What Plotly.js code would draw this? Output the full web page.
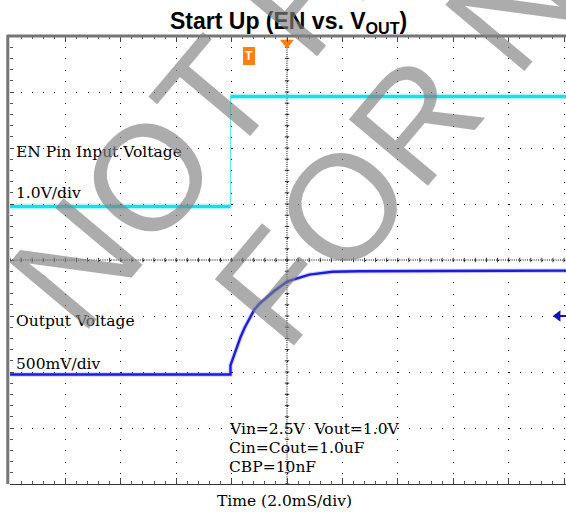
<!DOCTYPE html>
<html><head><meta charset="utf-8">
<script src="https://cdn.plot.ly/plotly-3.0.1.min.js"></script>
<style>html,body{margin:0;padding:0;background:#fff;overflow:hidden}#chart{width:566px;height:516px}</style>
</head><body><div id="chart"></div>
<script>
// Time axis in ms (2.0 ms/div, trigger at 0); vertical values in screen divisions
const enTime = [-10, -2.04, -2.04, 10.07];
const enLevel = [0.955, 0.955, 2.92, 2.92];
const voutTime = [-10, -2.04, -2.04, -1.93, -1.79, -1.68, -1.53, -1.35, -1.17, -0.99, -0.74, -0.45, 0.02, 0.45, 0.81, 1.64, 2.62, 10.07];
const voutLevel = [-2.045, -2.045, -1.88, -1.72, -1.53, -1.38, -1.21, -1.03, -0.88, -0.78, -0.67, -0.55, -0.38, -0.31, -0.26, -0.21, -0.20, -0.19];
const triggerTime = [0];
const triggerLevel = [3.88];
const ch2RefTime = [9.78];
const ch2RefLevel = [-1.0];
const xRange = [-10, 10.072];
const yRange = [-4, 4];

const PX = px => (px - 10) / 556;
const PY = py => (484 - py) / 448;

const enThickX = [enTime[0], enTime[1], null, enTime[2], enTime[3]];
const enThickY = [enLevel[0], enLevel[1], null, enLevel[2], enLevel[3]];

const traces = [
  {x: enTime, y: enLevel, mode: 'lines', line: {color: 'rgba(70,225,235,0.8)', width: 1}, hoverinfo: 'skip'},
  {x: enThickX, y: enThickY, mode: 'lines', connectgaps: false, line: {color: 'rgba(30,230,240,0.35)', width: 6}, hoverinfo: 'skip'},
  {x: enThickX, y: enThickY, mode: 'lines', connectgaps: false, line: {color: '#14e2ea', width: 3}, hoverinfo: 'skip'},
  {x: voutTime, y: voutLevel, mode: 'lines', line: {color: 'rgba(70,70,255,0.25)', width: 4.5}, hoverinfo: 'skip'},
  {x: voutTime, y: voutLevel, mode: 'lines', line: {color: '#1c1cdc', width: 2.4}, hoverinfo: 'skip'},
  {x: triggerTime, y: triggerLevel, mode: 'markers', cliponaxis: false, marker: {symbol: 'triangle-down', size: 12, color: '#ff7f10'}, hoverinfo: 'skip'},
  {x: [ch2RefTime[0], xRange[1]], y: [ch2RefLevel[0], ch2RefLevel[0]], mode: 'lines', cliponaxis: false, line: {color: '#1010b8', width: 2}, hoverinfo: 'skip'},
  {x: ch2RefTime, y: ch2RefLevel, mode: 'markers', cliponaxis: false, marker: {symbol: 'triangle-left', size: 10, color: '#1010b8'}, hoverinfo: 'skip'}
];

const shapes = [];
// center crosshair (dense dotted) with small tick marks
shapes.push({type: 'line', xref: 'x', yref: 'y', x0: 0, x1: 0, y0: yRange[0], y1: yRange[1], line: {color: '#000', width: 1, dash: '1px,1.2px'}, layer: 'below'});
shapes.push({type: 'line', xref: 'x', yref: 'y', x0: xRange[0], x1: xRange[1], y0: 0, y1: 0, line: {color: '#000', width: 1, dash: '1px,1.2px'}, layer: 'below'});
for (let k = 0; k <= 40; k++) {
  const y = yRange[0] + k * 0.2;
  shapes.push({type: 'line', xref: 'x', yref: 'y', x0: -0.08, x1: 0.08, y0: y, y1: y, line: {color: '#333', width: 1}, layer: 'below'});
}
for (let k = 0; k <= 50; k++) {
  const x = xRange[0] + k * 0.4;
  shapes.push({type: 'line', xref: 'x', yref: 'y', x0: x, x1: x, y0: -0.04, y1: 0.04, line: {color: '#333', width: 1}, layer: 'below'});
}
// frame borders
shapes.push({type: 'line', xref: 'paper', yref: 'paper', x0: -0.004, x1: 1, y0: 1, y1: 1, line: {color: '#767676', width: 3}});
shapes.push({type: 'line', xref: 'paper', yref: 'paper', x0: -0.004, x1: -0.004, y0: 0, y1: 1.003, line: {color: '#767676', width: 3}});

const serif = 'DejaVu Serif, serif';
const fs = 15.5;
function label(text, left, baseline, extra) {
  return Object.assign({xref: 'paper', yref: 'paper', x: PX(left), y: PY(baseline - 0.35 * fs), xanchor: 'left', yanchor: 'middle', text: text, showarrow: false, borderpad: 0, borderwidth: 0, font: {family: serif, size: fs, color: '#000'}}, extra || {});
}
const wmFont = {family: 'Liberation Sans, Arial, sans-serif', size: 150, color: 'rgba(128,128,128,0.65)'};
const annotations = [
  {xref: 'paper', yref: 'paper', x: PX(288), y: PY(30.5 - 0.35 * 23), xanchor: 'center', yanchor: 'middle', showarrow: false, text: '<b>Start Up (EN vs. V<sub>OUT</sub>)</b>', font: {family: 'Liberation Sans, Arial, sans-serif', size: 23, color: '#000'}},
  label('EN Pin Input Voltage', 16, 157),
  label('1.0V/div', 16, 198),
  label('Output Voltage', 16, 326),
  label('500mV/div', 16, 369),
  label('Vin=2.5V\u00a0\u00a0Vout=1.0V', 229, 434),
  label('Cin=Cout=1.0uF', 229, 453),
  label('CBP=10nF', 229, 472),
  {xref: 'paper', yref: 'paper', x: PX(284), y: PY(506 - 0.35 * fs), xanchor: 'center', yanchor: 'middle', showarrow: false, text: 'Time (2.0mS/div)', font: {family: serif, size: fs, color: '#000'}},
  {xref: 'paper', yref: 'paper', x: PX(249), y: PY(56), xanchor: 'center', yanchor: 'middle', showarrow: false, text: '<b>T</b>', bgcolor: '#ff7f10', borderpad: 2, borderwidth: 0, font: {family: 'Liberation Sans, Arial, sans-serif', size: 12, color: '#fff'}},
  {xref: 'paper', yref: 'paper', x: PX(190), y: PY(127), xanchor: 'center', yanchor: 'middle', showarrow: false, text: 'NOT R', textangle: -50, font: wmFont},
  {xref: 'paper', yref: 'paper', x: PX(396), y: PY(143), xanchor: 'center', yanchor: 'middle', showarrow: false, text: 'FOR N', textangle: -50, font: wmFont}
];

const layout = {
  width: 566, height: 516,
  margin: {l: 10, r: 0, t: 36, b: 32, pad: 0},
  paper_bgcolor: '#fff', plot_bgcolor: '#fff',
  showlegend: false,
  xaxis: {
    range: xRange, tick0: 0, dtick: 2, showticklabels: false, zeroline: false,
    showgrid: true, gridcolor: '#111', gridwidth: 1, griddash: '1px,10.2px',
    showline: true, linecolor: '#333', linewidth: 1, mirror: 'allticks',
    ticks: 'inside', ticklen: 6, tickcolor: '#444', tickwidth: 1,
    minor: {dtick: 0.4, tick0: 0, ticks: 'inside', ticklen: 3, tickcolor: '#555', tickwidth: 1, showgrid: false},
    fixedrange: true
  },
  yaxis: {
    range: yRange, tick0: 0, dtick: 1, showticklabels: false, zeroline: false,
    showgrid: true, gridcolor: '#111', gridwidth: 1, griddash: '1px,10.08px',
    showline: false,
    ticks: 'inside', ticklen: 4, tickcolor: '#444', tickwidth: 1,
    minor: {dtick: 0.2, tick0: 0, ticks: 'inside', ticklen: 3, tickcolor: '#555', tickwidth: 1, showgrid: false},
    fixedrange: true
  },
  shapes: shapes,
  annotations: annotations
};

Plotly.newPlot('chart', traces, layout, {staticPlot: true, displayModeBar: false});
</script>
</body></html>
